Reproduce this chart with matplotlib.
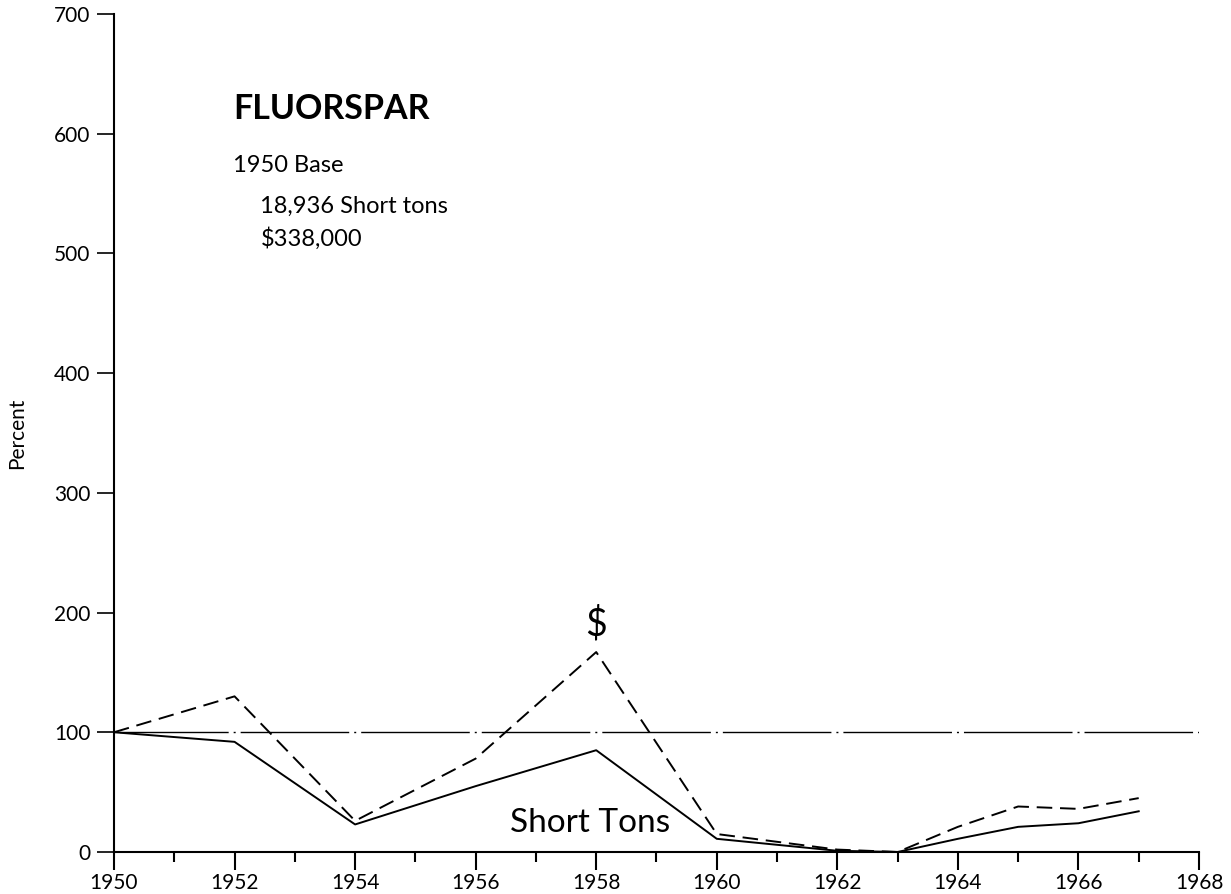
import matplotlib
matplotlib.use("Agg")
import matplotlib.pyplot as plt
from matplotlib.ticker import MultipleLocator

plt.rcParams['font.family'] = ['Lato', 'DejaVu Sans']

# values (percent of 1950)
years = [1950, 1952, 1954, 1956, 1958, 1960, 1962, 1963, 1964, 1965, 1966, 1967]
dollars = [100, 130, 26, 78, 167, 15, 2, 0, 21, 38, 36, 45]
tons = [100, 92, 23, 55, 85, 11, 1, 0, 11, 21, 24, 34]
base_years = [1950, 1968]
base_level = [100, 100]

fig = plt.figure(figsize=(12.31, 8.94), dpi=100)
ax = fig.add_axes([0.0926, 0.047, 0.8814, 0.9374])

# long dash / dot pattern, one period every two years (about 120.5 px)
px = 0.72
ax.plot(base_years, base_level, color='black', lw=1.0,
        linestyle=(1, (2 * px, 5 * px, 108.55 * px, 5 * px)))
ax.plot(years, dollars, color='black', lw=1.4, dashes=(8, 4))
ax.plot(years, tons, color='black', lw=1.4)

ax.set_xlim(1950, 1968)
ax.set_ylim(0, 700)
ax.spines['top'].set_visible(False)
ax.spines['right'].set_visible(False)
ax.spines['left'].set_linewidth(1.5)
ax.spines['bottom'].set_linewidth(1.5)

ax.xaxis.set_major_locator(MultipleLocator(2))
ax.xaxis.set_minor_locator(MultipleLocator(1))
ax.yaxis.set_major_locator(MultipleLocator(100))
ax.tick_params(axis='x', which='major', length=13, width=1.5, labelsize=15, pad=2)
ax.tick_params(axis='x', which='minor', length=7, width=1.5)
ax.tick_params(axis='y', which='major', length=12, width=1.2, labelsize=15, pad=5)

ax.set_ylabel('Percent', fontsize=15)
ax.yaxis.set_label_coords(-0.080, 0.5)

ax.text(1951.98, 612, 'FLUORSPAR', fontsize=24.5, fontweight='bold', va='baseline')
ax.text(1951.98, 568, '1950 Base', fontsize=17, va='baseline')
ax.text(1952.43, 534, '18,936 Short tons', fontsize=17, va='baseline')
ax.text(1952.43, 506, '$338,000', fontsize=17, va='baseline')
ax.text(1958, 190, '$', fontsize=27, ha='center', va='center')
ax.text(1957.9, 17, 'Short Tons', fontsize=24, ha='center', va='baseline')

fig.savefig('out.png', dpi=100)
